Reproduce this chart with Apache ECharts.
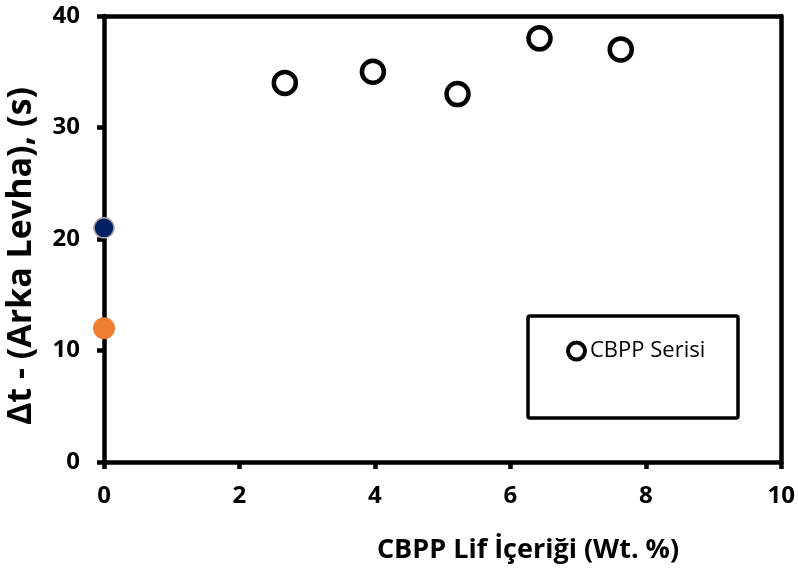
<!DOCTYPE html>
<html>
<head>
<meta charset="utf-8">
<script src="https://cdn.jsdelivr.net/npm/echarts@6/dist/echarts.min.js"></script>
<style>
  html, body { margin: 0; padding: 0; background: #fff; }
  #chart { width: 798px; height: 570px; }
</style>
</head>
<body>
<div id="chart"></div>
<script>
// Fibre content (wt. %) and delay time of the CBPP series
const cbppFiber = [2.67, 3.97, 5.22, 6.43, 7.63];
const cbppDelta = [34, 35, 33, 38, 37];
// Two reference points at zero fibre content
const refBlue = [[0, 21]];
const refOrange = [[0, 12]];

const seriesName = 'CBPP Serisi';
const xTitle = 'CBPP Lif İçeriği (Wt. %)';
const yTitle = 'Δt - (Arka Levha), (s)';

const FONT = '"Open Sans", "Noto Sans", sans-serif';
const LINE_W = 4.5;

const chart = echarts.init(document.getElementById('chart'));

const lineStyle = { color: '#000', width: LINE_W };
const labelStyle = { color: '#000', fontFamily: FONT, fontWeight: 'bold', fontSize: 24 };

// Frame sides drawn as extra axes without ticks or labels
const frameAxis = {
  type: 'value', axisLine: { show: true, onZero: false, lineStyle },
  axisTick: { show: false }, axisLabel: { show: false }, splitLine: { show: false }
};

chart.setOption({
  animation: false,
  backgroundColor: '#fff',
  grid: { left: 104, right: 16, top: 16, bottom: 108 },
  title: [
    {
      text: xTitle, left: 523, top: 545, textAlign: 'center', textVerticalAlign: 'middle',
      textStyle: { fontFamily: FONT, fontWeight: 'bold', fontSize: 27, color: '#000' }
    }
  ],
  graphic: [
    {
      type: 'text', x: 21, y: 256, rotation: Math.PI / 2,
      style: {
        text: yTitle, fill: '#000', font: 'bold 34px ' + FONT,
        textAlign: 'center', textVerticalAlign: 'middle'
      }
    },
    {
      type: 'rect', shape: { x: 528, y: 316, width: 210, height: 102, r: 2 },
      style: { fill: '#fff', stroke: '#000', lineWidth: 3.5 }, z: 1
    }
  ],
  legend: {
    data: [seriesName],
    left: 566, top: 338, padding: 0,
    itemWidth: 17, itemHeight: 17, itemGap: 6,
    itemStyle: { color: '#fff', borderColor: '#000', borderWidth: 4 },
    textStyle: { fontFamily: FONT, fontSize: 22, color: '#000', lineHeight: 26 },
    z: 10
  },
  xAxis: [
    {
      type: 'value', min: 0, max: 10, interval: 2, position: 'bottom',
      axisLine: { show: true, onZero: false, lineStyle },
      axisTick: { show: true, inside: false, length: 7, lineStyle },
      splitLine: { show: false },
      axisLabel: Object.assign({}, labelStyle, { margin: 22 })
    },
    Object.assign({}, frameAxis, { min: 0, max: 10, position: 'top' })
  ],
  yAxis: [
    {
      type: 'value', min: 0, max: 40, interval: 10, position: 'left',
      axisLine: { show: true, onZero: false, lineStyle },
      axisTick: { show: true, inside: false, length: 7, lineStyle },
      splitLine: { show: false },
      axisLabel: Object.assign({}, labelStyle, { margin: 24 })
    },
    Object.assign({}, frameAxis, { min: 0, max: 40, position: 'right' })
  ],
  series: [
    {
      name: seriesName, type: 'scatter', symbol: 'circle', symbolSize: 22,
      data: cbppFiber.map((x, i) => [x, cbppDelta[i]]),
      itemStyle: { color: '#fff', borderColor: '#000', borderWidth: 4.5, opacity: 1 },
      clip: false
    },
    {
      name: 'ref1', type: 'scatter', symbol: 'circle', symbolSize: 20,
      data: refBlue,
      itemStyle: { color: '#002060', borderColor: '#a6a6a6', borderWidth: 1.5, opacity: 1 },
      clip: false
    },
    {
      name: 'ref2', type: 'scatter', symbol: 'circle', symbolSize: 22,
      data: refOrange,
      itemStyle: { color: '#ED7D31', opacity: 1 },
      clip: false
    }
  ]
});
</script>
</body>
</html>
